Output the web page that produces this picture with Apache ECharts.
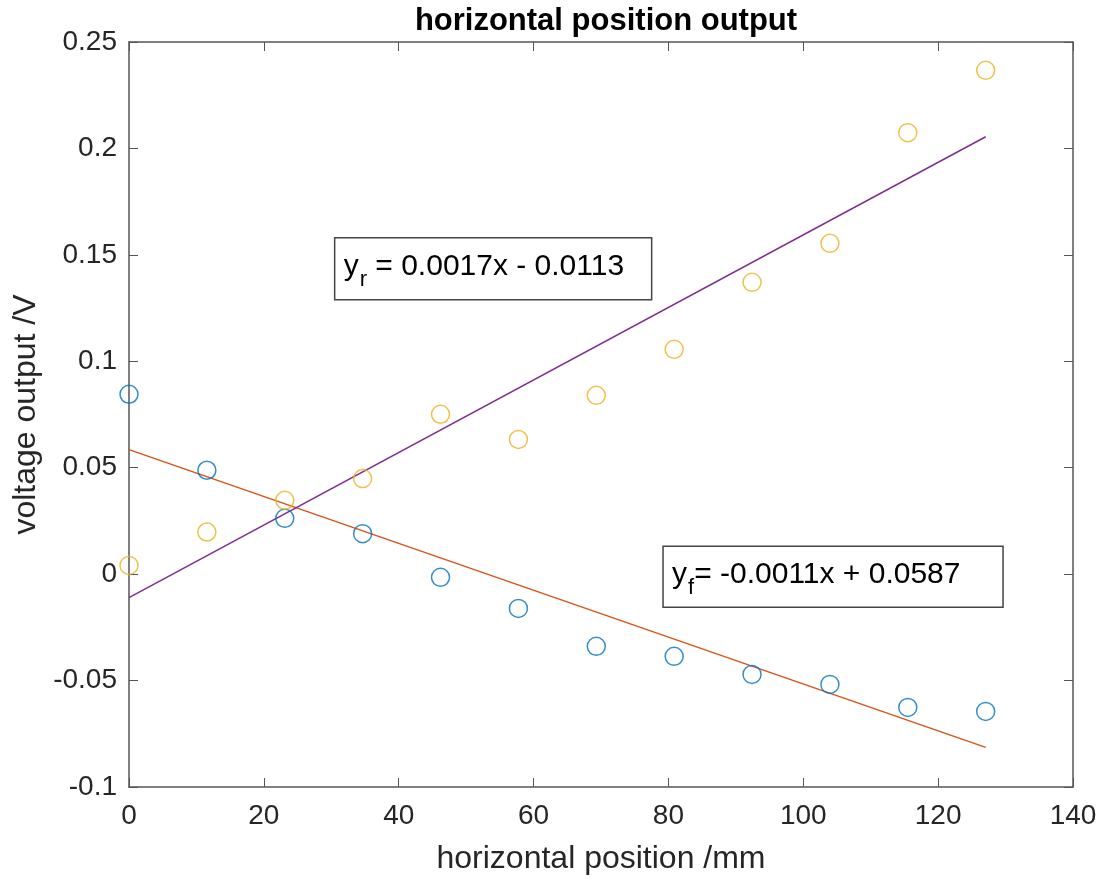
<!DOCTYPE html>
<html>
<head>
<meta charset="utf-8">
<script src="https://cdn.jsdelivr.net/npm/echarts@6/dist/echarts.min.js"></script>
<style>
  html, body { margin: 0; padding: 0; background: #fff; }
  #main { width: 1104px; height: 886px; }
</style>
</head>
<body>
<div id="main"></div>
<script>
// horizontal positions (mm)
var positions = [0, 11.55, 23.1, 34.65, 46.2, 57.75, 69.3, 80.85, 92.4, 103.95, 115.5, 127.05];
// measured voltages
var frontVolts = [0.0845, 0.0488, 0.0262, 0.019, -0.0015, -0.0161, -0.0339, -0.0386, -0.0471, -0.0518, -0.0626, -0.0645];
var rearVolts = [0.0041, 0.0198, 0.0347, 0.0449, 0.0751, 0.0633, 0.084, 0.1056, 0.1371, 0.1554, 0.2074, 0.2367];
// fitted lines, end points
var fitX = [0, 127.05];
var fitFront = [0.0585, -0.0814];
var fitRear = [-0.011, 0.2055];
// annotation anchors (data coords, top-left of box)
var rearLabelAt = [30.5, 0.158];
var frontLabelAt = [79.2, 0.0131];

var font = "Liberation Sans, Arial, Helvetica, sans-serif";
var axisColor = "#555";
var textColor = "#262626";

function pairs(xs, ys) {
  return xs.map(function (x, i) { return [x, ys[i]]; });
}

var chart = echarts.init(document.getElementById("main"));

var option = {
  backgroundColor: "#fff",
  animation: false,
  title: {
    text: "horizontal position output",
    left: 601,
    textAlign: "center",
    top: 1,
    textStyle: { fontFamily: font, fontSize: 31, fontWeight: "bold", color: "#000" },
  },
  grid: { left: 129, right: 31, top: 42, bottom: 99 },
  xAxis: [
    {
      type: "value",
      min: 0,
      max: 140,
      interval: 20,
      name: "horizontal position /mm",
      nameLocation: "middle",
      nameGap: 56,
      nameTextStyle: { fontFamily: font, fontSize: 32, color: textColor },
      axisLine: { onZero: false, lineStyle: { color: axisColor, width: 1.5 } },
      axisTick: { inside: true, length: 9, lineStyle: { color: axisColor } },
      axisLabel: { fontFamily: font, fontSize: 28, color: textColor, margin: 15 },
      splitLine: { show: false },
    },
    {
      type: "value",
      position: "top",
      min: 0,
      max: 140,
      interval: 20,
      axisLine: { show: true, onZero: false, lineStyle: { color: axisColor, width: 1.5 } },
      axisTick: { inside: true, length: 9, lineStyle: { color: axisColor } },
      axisLabel: { show: false },
      splitLine: { show: false },
    },
  ],
  yAxis: [
    {
      type: "value",
      min: -0.1,
      max: 0.25,
      interval: 0.05,
      name: "voltage output /V",
      nameLocation: "middle",
      nameGap: 84,
      nameTextStyle: { fontFamily: font, fontSize: 32, color: textColor },
      axisLine: { show: true, onZero: false, lineStyle: { color: axisColor, width: 1.5 } },
      axisTick: { show: true, inside: true, length: 9, lineStyle: { color: axisColor } },
      axisLabel: { fontFamily: font, fontSize: 28, color: textColor, margin: 12 },
      splitLine: { show: false },
    },
    {
      type: "value",
      position: "right",
      min: -0.1,
      max: 0.25,
      interval: 0.05,
      axisLine: { show: true, onZero: false, lineStyle: { color: axisColor, width: 1.5 } },
      axisTick: { show: true, inside: true, length: 9, lineStyle: { color: axisColor } },
      axisLabel: { show: false },
      splitLine: { show: false },
    },
  ],
  series: [
    {
      name: "front fit",
      type: "line",
      data: pairs(fitX, fitFront),
      showSymbol: false,
      lineStyle: { color: "#D95319", width: 1.5 },
      z: 2,
    },
    {
      name: "rear fit",
      type: "line",
      data: pairs(fitX, fitRear),
      showSymbol: false,
      lineStyle: { color: "#7E2F8E", width: 1.5 },
      z: 2,
    },
    {
      name: "front",
      type: "scatter",
      data: pairs(positions, frontVolts),
      symbol: "circle",
      symbolSize: 18,
      itemStyle: { color: "transparent", borderColor: "#0072BD", borderWidth: 1.5 },
      z: 3,
    },
    {
      name: "rear",
      type: "scatter",
      data: pairs(positions, rearVolts),
      symbol: "circle",
      symbolSize: 18,
      itemStyle: { color: "transparent", borderColor: "#EDB120", borderWidth: 1.5 },
      z: 3,
    },
  ],
};

chart.setOption(option);

function labelBox(at, w, h, sub, rest) {
  var p = chart.convertToPixel({ gridIndex: 0 }, at);
  return {
    type: "group",
    x: p[0],
    y: p[1],
    z: 10,
    children: [
      {
        type: "rect",
        shape: { x: 0, y: 0, width: w, height: h },
        style: { fill: "#fff", stroke: "#444", lineWidth: 1.5 },
      },
      {
        type: "text",
        x: 9,
        y: h / 2 - 2,
        style: {
          text: "{y|y}{s|" + sub + "}{t|" + rest + "}",
          verticalAlign: "middle",
          rich: {
            y: { fontFamily: font, fontSize: 30, color: "#000" },
            s: { fontFamily: font, fontSize: 22, color: "#000", padding: [26, 0, 0, 1] },
            t: { fontFamily: font, fontSize: 30, color: "#000" },
          },
        },
      },
    ],
  };
}

chart.setOption({
  graphic: [
    labelBox(rearLabelAt, 317, 62, "r", " = 0.0017x - 0.0113"),
    labelBox(frontLabelAt, 340, 61, "f", "= -0.0011x + 0.0587"),
  ],
});
</script>
</body>
</html>
